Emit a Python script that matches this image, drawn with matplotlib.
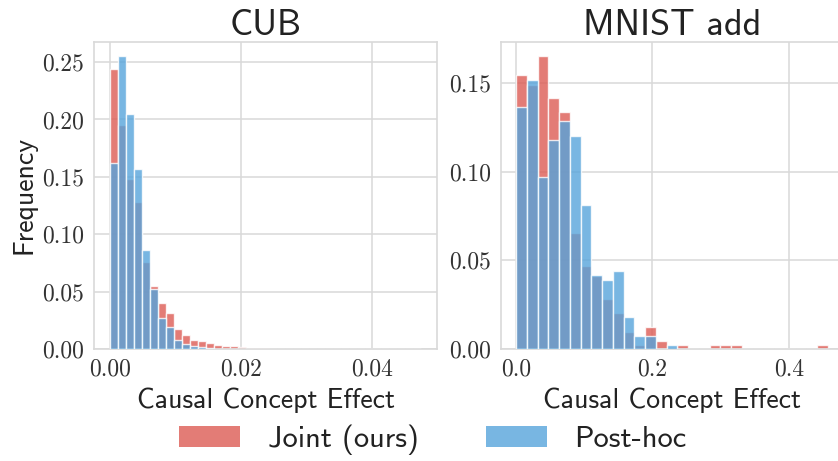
import numpy as np
import matplotlib
matplotlib.use("Agg")
import matplotlib.pyplot as plt
from matplotlib.patches import Patch
from matplotlib.ticker import FormatStrFormatter

# histogram data (probability per bin)
cub_max = 0.0475
cub_bins = 39
cub_joint = [0.244, 0.195, 0.148, 0.128, 0.0758, 0.0545, 0.0397, 0.0312, 0.0172, 0.0122,
             0.0082, 0.0073, 0.0050, 0.0032, 0.0026, 0.0023, 0.0015, 0.0009, 0.0006, 0.0005,
             0.0004, 0.0004, 0.0003, 0.0003, 0.0002, 0.0002, 0.0002, 0.0001, 0.0001, 0.0001,
             0.0001, 0.0001, 0.0001, 0.0, 0.0001, 0.0, 0.0, 0.0, 0.0001]
cub_posthoc = [0.162, 0.255, 0.205, 0.157, 0.0866, 0.0525, 0.0271, 0.0190, 0.0082, 0.0044,
               0.0026, 0.0020, 0.0006, 0.0003, 0.0002, 0.0001, 0.0001, 0.0, 0.0, 0.0,
               0.0, 0.0, 0.0, 0.0, 0.0, 0.0, 0.0, 0.0, 0.0, 0.0,
               0.0, 0.0, 0.0, 0.0, 0.0, 0.0, 0.0, 0.0, 0.0]

mnist_max = 0.4575
mnist_bins = 29
mnist_joint = [0.1547, 0.149, 0.165, 0.1413, 0.1336, 0.0655, 0.0468, 0.0410, 0.0283, 0.0204,
               0.0098, 0.0023, 0.0126, 0.0046, 0.0, 0.0020, 0.0, 0.0, 0.0020, 0.0020,
               0.0020, 0.0, 0.0, 0.0, 0.0, 0.0, 0.0, 0.0, 0.0020]
mnist_posthoc = [0.1364, 0.1519, 0.0968, 0.1179, 0.1285, 0.1202, 0.0810, 0.0415, 0.0389, 0.0442,
                 0.0178, 0.0071, 0.0072, 0.0, 0.0021, 0.0, 0.0, 0.0, 0.0, 0.0,
                 0.0, 0.0, 0.0, 0.0, 0.0, 0.0, 0.0, 0.0, 0.0]

titles = ["CUB", "MNIST add"]
xticks = [[0.0, 0.02, 0.04], [0.0, 0.2, 0.4]]
xfmt = ["%.2f", "%.1f"]
yticks = [[0.0, 0.05, 0.10, 0.15, 0.20, 0.25], [0.0, 0.05, 0.10, 0.15]]
labels = ["Joint (ours)", "Post-hoc"]

red = "#dc5b54"
blue = "#56a4db"
alpha = 0.8
sans = "cmss10"
serif = "cmr10"
text_col = "#333333"
grid_col = "#d9d9d9"

plt.rcParams["font.family"] = serif
plt.rcParams["axes.formatter.use_mathtext"] = True

fig = plt.figure(figsize=(8.38, 4.61), dpi=100)
ax1 = fig.add_axes([94 / 838, 1 - 349 / 461, 343 / 838, 307.3 / 461])
ax2 = fig.add_axes([500.5 / 838, 1 - 349 / 461, 343 / 838, 307.3 / 461])

datasets = [(cub_max, cub_bins, cub_joint, cub_posthoc),
            (mnist_max, mnist_bins, mnist_joint, mnist_posthoc)]

for i, ax in enumerate([ax1, ax2]):
    vmax, nb, joint, post = datasets[i]
    edges = np.linspace(0, vmax, nb + 1)
    w = edges[1] - edges[0]
    ax.bar(edges[:-1], joint, width=w, align="edge", color=red, alpha=alpha,
           edgecolor="white", linewidth=1.0, zorder=2)
    ax.bar(edges[:-1], post, width=w, align="edge", color=blue, alpha=alpha,
           edgecolor="white", linewidth=1.0, zorder=3)
    ax.set_xlim(-0.05 * vmax, 1.05 * vmax)
    top = max(max(joint), max(post)) * 1.05
    ax.set_ylim(0, top)
    ax.set_xticks(xticks[i])
    ax.set_yticks(yticks[i])
    ax.xaxis.set_major_formatter(FormatStrFormatter(xfmt[i]))
    ax.yaxis.set_major_formatter(FormatStrFormatter("%.2f"))
    ax.tick_params(length=0, labelsize=17, colors=text_col, pad=7)
    ax.grid(True, color=grid_col, linewidth=1.1, zorder=0)
    ax.set_axisbelow(True)
    for s in ax.spines.values():
        s.set_color(grid_col)
        s.set_linewidth(1.2)
    ax.set_title(titles[i], fontsize=26, fontfamily=sans, color="#222222", pad=5)
    ax.set_xlabel("Causal Concept Effect", fontsize=20, fontfamily=sans,
                  color="#222222", labelpad=5)

fig.text(24 / 838, 1 - 195 / 461, "Frequency", rotation=90, ha="center", va="center",
         fontsize=20, fontfamily=sans, color="#222222")

handles = [Patch(facecolor=red, alpha=alpha, edgecolor="none"),
           Patch(facecolor=blue, alpha=alpha, edgecolor="none")]
fig.legend(handles, labels, loc="center", bbox_to_anchor=(433 / 838, 1 - 440 / 461),
           ncol=2, frameon=False, prop={"family": sans, "size": 22},
           handletextpad=0.9, columnspacing=2.2, labelcolor="#222222")

fig.savefig("out.png", dpi=100)
